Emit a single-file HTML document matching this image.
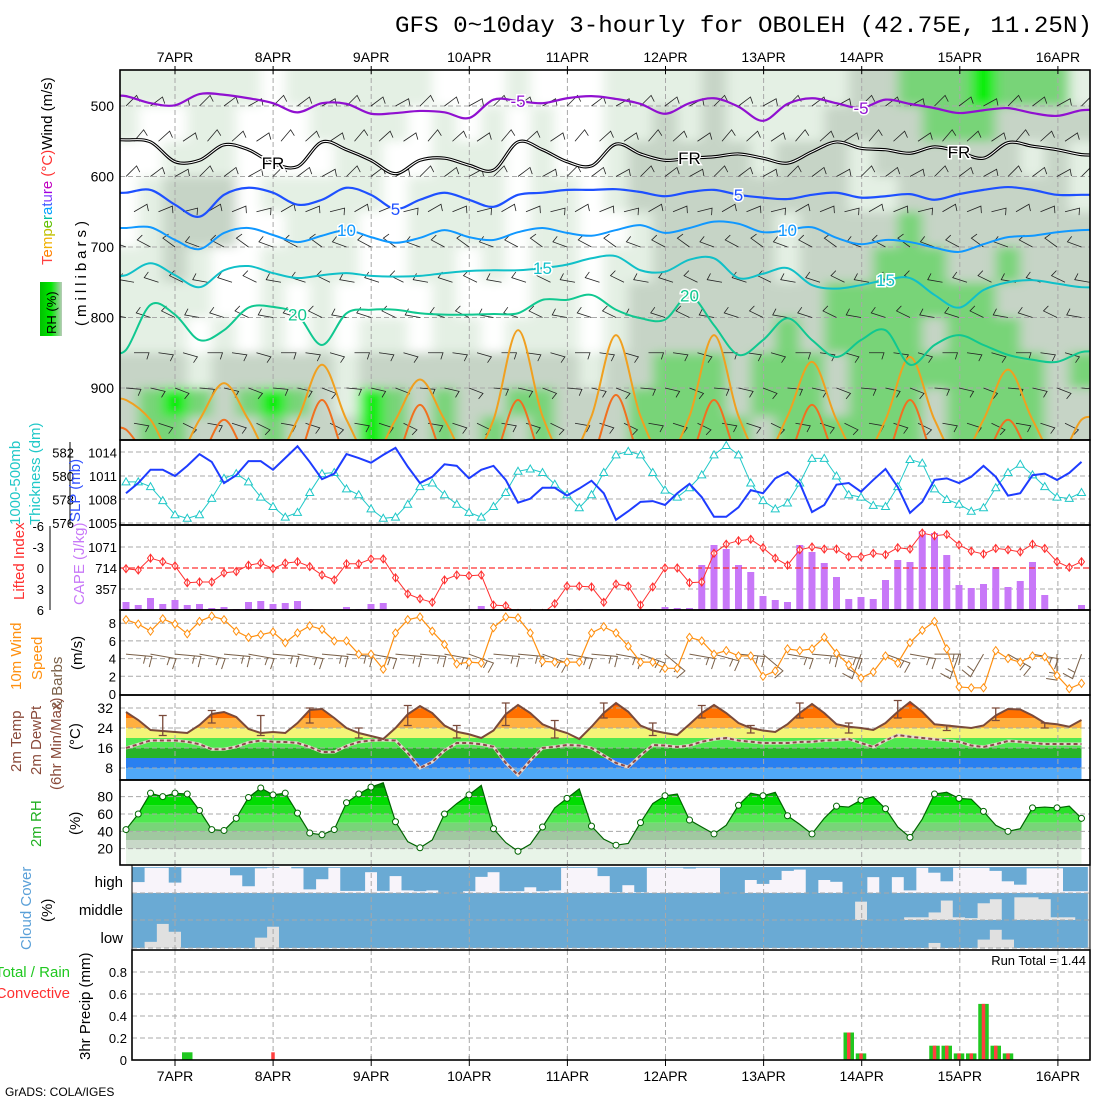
<!DOCTYPE html>
<html><head><meta charset="utf-8">
<style>
html,body{margin:0;padding:0;background:#fff;}
svg{display:block;font-family:"Liberation Sans",sans-serif;}
</style></head>
<body>
<svg id="chart" xmlns="http://www.w3.org/2000/svg" width="1100" height="1100" viewBox="0 0 1100 1100">
<defs>
<clipPath id="cpUp"><rect x="120" y="70" width="970" height="370"/></clipPath>
<clipPath id="cpSlp"><rect x="120" y="440" width="970" height="85"/></clipPath>
<clipPath id="cpCape"><rect x="120" y="525" width="970" height="85"/></clipPath>
<clipPath id="cpWind"><rect x="120" y="610" width="970" height="85"/></clipPath>
<clipPath id="cpTemp"><rect x="120" y="695" width="970" height="85"/></clipPath>
<clipPath id="cpRh"><rect x="120" y="780" width="970" height="85"/></clipPath>
<filter id="blur" x="-5%" y="-5%" width="110%" height="110%"><feGaussianBlur stdDeviation="6 5"/></filter>
<linearGradient id="rhKey" x1="0" x2="1" y1="0" y2="0"><stop offset="0" stop-color="#00c000"/><stop offset="0.5" stop-color="#00e800"/><stop offset="1" stop-color="#b8ccb8"/></linearGradient>
</defs>
<rect x="0" y="0" width="1100" height="1100" fill="#fff"/>
<text x="395" y="32" font-family="Liberation Mono, monospace" font-size="23" textLength="697" lengthAdjust="spacingAndGlyphs">GFS 0~10day 3-hourly for OBOLEH (42.75E, 11.25N)</text>
<g id="layers"></g>

<g font-size="15">
<text transform="translate(52,265) rotate(-90)"><tspan fill="#ff4040">T</tspan><tspan fill="#ff8000">e</tspan><tspan fill="#f0b000">m</tspan><tspan fill="#c0c000">p</tspan><tspan fill="#60c000">e</tspan><tspan fill="#00c0a0">r</tspan><tspan fill="#00a0ff">a</tspan><tspan fill="#4060ff">t</tspan><tspan fill="#8040ff">u</tspan><tspan fill="#a000e0">r</tspan><tspan fill="#c000c0">e</tspan><tspan fill="#ff3030"> (°C)</tspan><tspan fill="#000">Wind (m/s)</tspan></text>
<rect x="40" y="282" width="22" height="54" fill="url(#rhKey)"/>
<text transform="translate(56,334) rotate(-90)" fill="#000" font-size="13">RH (%)</text>
<text transform="translate(86,326) rotate(-90)" fill="#000" letter-spacing="4">(millibars)</text>
<text transform="translate(20,525) rotate(-90)" fill="#20c8c8">1000-500mb</text>
<text transform="translate(40,525) rotate(-90)" fill="#20c8c8">Thickness (dm)</text>
<text transform="translate(80,522) rotate(-90)" fill="#3050ff">SLP (mb)</text>
<text transform="translate(24,600) rotate(-90)" fill="#ff3030">Lifted Index</text>
<text transform="translate(84,605) rotate(-90)" fill="#c878f8">CAPE (J/kg)</text>
<text transform="translate(21,690) rotate(-90)" fill="#ff9010">10m Wind</text>
<text transform="translate(42,680) rotate(-90)" fill="#ff9010">Speed</text>
<text transform="translate(62,710) rotate(-90)" fill="#7a6048">&amp; Barbs</text>
<text transform="translate(82,670) rotate(-90)" fill="#000">(m/s)</text>
<text transform="translate(21,772) rotate(-90)" fill="#8a4a3a">2m Temp</text>
<text transform="translate(41,775) rotate(-90)" fill="#8a4a3a">2m DewPt</text>
<text transform="translate(61,790) rotate(-90)" fill="#8a4a3a">(6hr Min/Max)</text>
<text transform="translate(80,750) rotate(-90)" fill="#000">(°C)</text>
<text transform="translate(41,847) rotate(-90)" fill="#20b020">2m RH</text>
<text transform="translate(80,835) rotate(-90)" fill="#000">(%)</text>
<text transform="translate(31,950) rotate(-90)" fill="#5aa0d8">Cloud Cover</text>
<text transform="translate(52,922) rotate(-90)" fill="#000">(%)</text>
<text transform="translate(90,1060) rotate(-90)" fill="#000">3hr Precip (mm)</text>
<text x="70" y="977" text-anchor="end" fill="#20c820">Total / Rain</text>
<text x="70" y="998" text-anchor="end" fill="#ff3030">Convective</text>
<text x="123" y="887" text-anchor="end" font-size="15">high</text>
<text x="123" y="915" text-anchor="end" font-size="15">middle</text>
<text x="123" y="943" text-anchor="end" font-size="15">low</text>
<text x="1086" y="965" text-anchor="end" font-size="13">Run Total = 1.44</text>
<text x="5" y="1096" font-size="12">GrADS: COLA/IGES</text>
</g>
</svg>

<script>
const dateLabels = ["7APR","8APR","9APR","10APR","11APR","12APR","13APR","14APR","15APR","16APR"];
const slp = [1008.8,1010.1,1011.8,1011.8,1011.0,1012.3,1013.8,1012.8,1010.1,1011.1,1012.9,1012.9,1011.8,1013.3,1014.8,1012.8,1010.6,1011.3,1013.8,1013.3,1012.7,1013.7,1014.6,1012.2,1010.1,1010.9,1012.5,1012.3,1010.7,1011.8,1012.3,1010.5,1007.6,1008.1,1009.5,1009.5,1008.5,1009.4,1010.4,1008.8,1005.4,1006.5,1007.7,1007.8,1007.3,1008.8,1010.0,1008.3,1005.8,1005.8,1007.0,1009.2,1008.8,1010.7,1011.5,1010.1,1006.4,1007.3,1009.9,1010.1,1009.0,1010.5,1011.9,1009.6,1006.3,1007.7,1010.5,1010.7,1010.1,1010.9,1012.3,1010.9,1008.5,1008.8,1011.1,1011.3,1010.5,1011.4,1012.8];
const thickness = [579.5,579.5,579.1,577.9,576.7,576.4,576.7,578.1,579.8,580.2,579.5,578.2,577.4,576.5,576.9,578.6,580.2,580.3,578.9,578.4,577.2,576.4,576.5,577.6,579.1,579.4,578.4,577.6,576.9,576.5,577.4,578.6,580.4,580.6,580.3,579.3,578.4,577.3,578.4,580.3,581.8,582.1,581.8,580.3,578.8,578.2,579.0,580.1,581.8,582.6,581.8,579.4,577.9,577.2,577.7,579.4,581.5,581.5,580.0,578.4,578.2,577.5,577.4,579.1,581.4,581.1,578.9,578.0,577.6,577.0,577.3,579.0,580.3,581.0,580.1,579.1,578.2,578.1,578.6];
const liftedIndex = [0.1,0.3,-1.4,-0.9,-0.3,2.1,2.0,2.0,0.7,0.5,-0.4,-0.7,0.1,-0.7,-0.9,-0.2,1.0,1.7,-0.6,-0.6,-1.3,-1.3,1.4,3.7,4.4,4.9,1.7,1.0,1.1,1.0,5.3,5.4,6.5,6.5,6.5,5.1,2.6,2.6,2.7,4.9,2.3,2.6,5.3,2.7,0.0,0.0,2.1,2.0,-2.1,-3.4,-3.9,-4.1,-2.9,-1.4,-0.4,-2.6,-3.0,-2.7,-2.7,-1.6,-1.6,-2.1,-1.9,-2.9,-2.7,-5.0,-4.6,-4.8,-3.3,-2.4,-2.0,-2.8,-2.6,-2.3,-3.4,-2.8,-0.9,-0.1,-0.9];
const cape = [136,85,204,102,170,85,102,34,51,17,136,153,102,119,153,17,0,0,51,17,102,119,0,0,0,0,0,0,17,68,0,0,0,0,0,0,0,17,0,0,0,0,0,17,51,34,34,765,1105,1037,765,646,238,170,136,1105,986,799,561,187,221,187,510,850,816,1343,1309,935,425,374,442,731,391,493,816,255,17,17,85];
const windSpeed = [8.4,7.9,7.1,8.5,7.9,6.8,8.2,8.8,8.4,7.1,6.4,6.7,7.0,5.8,6.9,7.7,7.3,6.0,6.0,4.5,4.5,2.8,6.9,8.4,8.7,7.1,5.6,3.4,3.6,3.5,7.5,8.7,8.6,6.9,3.7,3.6,3.6,3.6,6.9,7.6,6.9,5.4,3.6,3.6,2.9,2.9,6.4,6.0,4.5,4.9,4.3,4.3,2.0,2.6,5.1,4.9,5.1,6.4,4.6,3.3,1.8,2.5,4.3,3.5,5.8,7.2,8.2,5.1,0.8,0.7,0.7,4.9,4.0,3.6,4.3,4.2,2.1,0.6,1.2];
const windDir = [95,95,100,95,95,100,100,95,95,95,100,100,95,95,100,95,95,100,95,100,100,110,95,95,95,100,100,110,110,100,95,95,95,100,110,110,100,100,95,95,100,100,110,120,130,120,100,95,105,100,95,100,130,140,100,100,95,90,100,140,200,160,110,120,100,95,90,100,200,220,210,150,120,110,100,100,180,220,200];
const temp2m = [30.4,27.2,23.2,22.8,22.4,22.0,25.2,29.6,30.4,28.4,23.6,22.0,22.4,22.0,26.0,31.2,31.6,28.0,24.0,22.0,20.8,19.6,24.0,29.5,32.8,30.0,25.0,22.5,21.5,20.0,23.0,29.5,33.2,30.0,25.5,23.5,22.0,19.6,24.5,30.0,34.0,30.5,25.0,23.0,22.0,21.2,25.5,30.0,33.2,30.0,26.0,24.0,23.0,22.4,25.5,30.0,33.6,30.0,25.5,24.5,24.0,23.2,26.0,30.5,34.4,30.5,25.5,25.0,24.5,24.0,25.0,29.0,31.6,31.4,29.0,26.0,25.5,24.5,27.2];
const dew2m = [16,17.5,19,19,19,18.5,17.5,15.5,15.5,16.5,18.2,19,18.5,18.4,18,16.4,14.4,14.4,16.8,18.4,19,19.2,19,14,8,10.4,15,18,18,17.5,16.5,10,5.2,11,16,16.5,17.2,17,16,13,10,8.4,13,17.2,17,16.4,17,18.5,19.5,20,19,18.5,18,18,18,18.4,18.5,19,19.2,19.6,18,16.4,19,21.2,20.5,20,19.5,19,18.5,17,16.4,17.5,18.8,18.5,18,17.6,17.6,17.6,17.6];
const minMaxIdx = [3,7,11,15,19,23,27,31,35,39,43,47,51,55,59,63,67,71,75];
const tMax = [29,31,29,32,24,33,25,34,27,34,26,33,25,34,26,35,25,32,26];
const tMin = [21,26,21,26,20,25,20,25,20,28,21,28,22,28,22,28,23,27,24];
const rh2m = [42,60,84,80,84,83,64,42,41,55,79,90,82,84,61,38,36,42,73,83,91,96,51,28,21,30,60,72,82,93,43,27,17,25,45,67,78,89,46,31,24,26,50,72,81,83,53,45,37,47,70,84,81,85,58,48,37,55,69,68,76,80,66,45,33,54,83,85,78,77,63,47,40,43,67,68,67,69,55];
const cloudHigh = [0.58,0.03,0.03,0.6,0.02,0.02,0.02,0.02,0.32,0.74,0.05,0.03,0.0,0.05,0.86,0.47,0.03,0.92,0.92,0.2,0.92,0.35,0.9,0.93,0.9,1.0,1.0,0.93,0.38,0.2,0.93,0.93,0.78,0.93,0.9,0.03,0.03,0.03,0.35,0.97,0.7,0.97,0.03,0.03,0.03,0.06,0.03,0.03,1.0,1.0,0.5,0.65,0.5,0.15,0.1,1.0,0.5,0.57,1.0,1.0,0.39,1.0,0.39,0.9,0.03,0.22,0.55,0.03,0.03,0.03,0.15,0.55,0.68,0.05,0.05,0.05,0.93,0.93];
const cloudMid = [1,1,1,1,1,1,1,1,1,1,1,1,1,1,1,1,1,1,1,1,1,1,1,1,1,1,1,1,1,1,1,1,1,1,1,1,1,1,1,1,1,1,1,1,1,1,1,1,1,1,1,1,1,1,1,1,1,1,1,0.32,1,1,1,0.9,0.9,0.72,0.28,0.9,0.93,0.38,0.23,1,0.16,0.16,0.23,0.9,0.9,1];
const cloudLow = [1,0.78,0.14,0.42,1,1,1,1,1,1,0.63,0.24,1,1,1,1,1,1,1,1,1,1,1,1,1,1,1,1,1,1,1,1,1,1,1,1,1,1,1,1,1,1,1,1,1,1,1,1,1,1,1,1,1,1,1,1,1,1,1,1,1,1,1,1,1,0.82,1,1,1,0.7,0.35,0.7,1,1,1,1,1,1];
const precipTotal = [0,0,0,0,0.07,0,0,0,0,0,0,0,0,0,0,0,0,0,0,0,0,0,0,0,0,0,0,0,0,0,0,0,0,0,0,0,0,0,0,0,0,0,0,0,0,0,0,0,0,0,0,0,0,0,0,0,0,0,0.25,0.06,0,0,0,0,0,0.13,0.13,0.06,0.06,0.51,0.13,0.06,0,0,0,0,0,0];
const precipConv = [0,0,0,0,0,0,0,0,0,0,0,0.07,0,0,0,0,0,0,0,0,0,0,0,0,0,0,0,0,0,0,0,0,0,0,0,0,0,0,0,0,0,0,0,0,0,0,0,0,0,0,0,0,0,0,0,0,0,0,0.25,0.06,0,0,0,0,0,0.13,0.13,0.06,0.06,0.51,0.13,0.06,0,0,0,0,0,0];
const isoM5 = [486,496,499,483,484,489,496,509,496,497,511,510,507,509,517,491,493,496,489,486,490,497,511,496,489,501,521,497,489,496,503,491,497,503,510,506,503,510,514,506];
const isoFR = [548,551,579,577,555,562,581,586,551,562,577,596,577,574,584,591,551,562,579,585,554,568,577,574,572,568,574,581,565,551,560,562,567,558,565,574,552,557,562,569];
const iso5 = [623,619,640,657,626,616,623,640,633,616,626,646,633,623,633,643,626,623,619,619,618,622,628,622,619,626,630,632,626,623,630,628,625,633,625,619,615,619,626,626];
const iso10 = [673,672,690,703,680,673,683,693,684,676,686,694,687,676,686,690,679,673,680,684,676,669,680,673,664,667,679,676,672,687,696,690,693,701,707,696,686,684,679,676];
const iso15 = [740,723,740,757,733,727,737,744,740,737,741,742,741,737,734,733,733,730,725,716,713,733,735,718,716,744,738,730,754,759,754,747,744,768,786,761,750,747,752,757];
const iso20 = [846,782,796,832,818,786,785,796,839,794,789,789,794,796,796,795,794,775,775,768,789,801,803,769,811,853,832,801,832,856,832,818,867,839,825,839,853,860,863,849];
const iso25 = [917,945,1000,945,893,945,1000,945,867,945,1000,945,888,945,1000,945,818,940,1000,940,825,940,1000,940,825,940,1000,940,863,945,1000,945,856,945,1000,945,874,945,1000,945];
const iso30 = [959,1000,1000,1000,945,1000,1000,1000,917,1000,1000,1000,924,1000,1000,1000,917,1000,1000,1000,910,1000,1000,1000,917,1000,1000,1000,924,1000,1000,1000,917,1000,1000,1000,945,1000,1000,1000];
const rhLevels = [475,525,575,625,675,725,775,825,875,925,965];
const rhRows = [
"1111110111111000100011112111112233343331",
"1001100011110101010011212111122223332222",
"0011100001100111010012222212221222222121",
"0122201111101111011012222222221122222221",
"0122200111001111011001222221222232222222",
"1121001111001101011011222221222333223222",
"1111001010000100011012222222233333332222",
"1110101010110110111012222223233332333222",
"2221222221222222222122333233323333333323",
"2343234321432322332223333233323332333322",
"2332223222432323232223333323333332333322"];
const barbLevels = [500,550,600,650,700,750,800,850,900,950];
const barbDir = [45,40,45,60,290,280,280,90,95,100];

const NS = "http://www.w3.org/2000/svg";
const root = document.getElementById('layers');
function mk(tag, attrs, parent){ const e=document.createElementNS(NS,tag); for(const k in attrs) e.setAttribute(k,attrs[k]); (parent||root).appendChild(e); return e; }
function grp(clip, name){ const g=document.createElementNS(NS,'g'); if(clip) g.setAttribute('clip-path','url(#'+clip+')'); root.appendChild(g);
  
  
  return g; }
const X3 = i => 126 + 12.25*i;
const X6 = j => 126 + 24.5*j;
const dateX = d => 175 + 98.1*d;
const yP = p => 106 + (p-500)*0.705;
const ySlp = v => 523 - (v-1005)*7.83;
const yThk = v => 523 - (v-576)*11.75;
const yLi = v => 568 + v*7;
const yCape = v => 610 - v*21/357;
const yWs = v => 694 - v*8.85;
const yT = v => 748 - (v-16)*2.5;
const yRh = v => 866 - v*0.867;
const yPr = v => 1060 - v*110;
function smooth(pts){ let d='M'+pts[0][0]+','+pts[0][1];
  for(let i=0;i<pts.length-1;i++){ const p0=pts[Math.max(0,i-1)],p1=pts[i],p2=pts[i+1],p3=pts[Math.min(pts.length-1,i+2)];
    d+=' C'+(p1[0]+(p2[0]-p0[0])/6)+','+(p1[1]+(p2[1]-p0[1])/6)+' '+(p2[0]-(p3[0]-p1[0])/6)+','+(p2[1]-(p3[1]-p1[1])/6)+' '+p2[0]+','+p2[1]; }
  return d; }
function poly(vals, fx, fy){ return vals.map((v,i)=>fx(i)+','+fy(v)).join(' '); }
function hgrid(g, ys, x0){ ys.forEach(y=>{ const l=mk('line',{x1:x0||120,x2:1090,y1:y,y2:y,stroke:'#a8a8a8','stroke-dasharray':'5,3','stroke-width':1},g);
  
   }); }
function vgrid(g, y0, y1){ dateLabels.forEach((d,k)=>{ const l=mk('line',{x1:dateX(k),x2:dateX(k),y1:y0,y2:y1,stroke:'#a8a8a8','stroke-dasharray':'5,3','stroke-width':1},g);
  
   }); }
function frame(x,y,w,h,name){ const r=mk('rect',{x:x,y:y,width:w,height:h,fill:'none',stroke:'#000','stroke-width':1.6});
  
   }
function tick(x,y,txt,anchor,size,name){ const t=mk('text',{x:x,y:y,'text-anchor':anchor||'end','font-size':size||14,fill:'#000'}); t.textContent=txt;
  
   return t; }

// upper air
const gUp = grp('cpUp','upper-air-panel');
const rhCol = {'0':'#ffffff','1':'#e4f0e4','2':'#c6d4c6','3':'#78d478','4':'#00ee00'};
const gRh = mk('g',{filter:'url(#blur)'},gUp);


mk('rect',{x:100,y:50,width:1010,height:410,fill:'#fff'},gRh);
rhRows.forEach((row,r)=>{ const lv=rhLevels[r];
  const y0 = r===0?50:yP(lv-25), y1 = r===rhRows.length-1?460:yP(lv+25);
  for(let j=0;j<row.length;j++){ const x0 = j===0?100:X6(j)-12.25, x1 = j===row.length-1?1110:X6(j)+12.25;
    const c=mk('rect',{x:x0,y:y0,width:x1-x0+0.5,height:y1-y0+0.5,fill:rhCol[row[j]]},gRh);
    
     } });
hgrid(gUp,[500,600,700,800,900].map(yP));
vgrid(gUp,70,440);
barbLevels.forEach((lv,r)=>{ for(let j=0;j<40;j++){ const x=X6(j)+(r%2?8:0), y=yP(lv);
  const a=(barbDir[r]+(j%3)*8)*Math.PI/180, L=15;
  const ex=x+Math.sin(a)*L, ey=y-Math.cos(a)*L;
  const b=a+Math.PI*0.6, bx=ex+Math.sin(b)*7, by=ey-Math.cos(b)*7;
  const p=mk('path',{d:'M'+x+','+y+' L'+ex+','+ey+' L'+bx+','+by,fill:'none',stroke:'#222','stroke-width':0.8},gUp);
  
   } });
function iso(vals,color,w,name){ const pts=vals.map((p,j)=>[X6(j),yP(p)]); pts.unshift([110,pts[0][1]]); pts.push([1100,pts[pts.length-1][1]]);
  const e=mk('path',{d:smooth(pts),fill:'none',stroke:color,'stroke-width':w},gUp);
  
   return pts; }
iso(iso30,'#f07020',2,'isotherm-30');
iso(iso25,'#f0a020',2,'isotherm-25');
iso(iso20,'#10c890',2,'isotherm-20');
iso(iso15,'#10c0c8',2,'isotherm-15');
iso(iso10,'#1098ff',2,'isotherm-10');
iso(iso5,'#1e50ff',2.2,'isotherm-5');
iso(isoFR,'#000',3.2,'isotherm-freezing');
iso(isoFR,'#fff',1,'isotherm-freezing-inner');
iso(isoM5,'#9010d0',2.2,'isotherm-minus-5');
function isoLabel(j, arr, txt, color){ const t=mk('text',{x:X6(j),y:yP(arr[j])+6,'font-size':17,fill:color,'text-anchor':'middle',stroke:'#fff','stroke-width':3,'paint-order':'stroke'},gUp); t.textContent=txt;
  
   }
isoLabel(16,isoM5,'-5','#9010d0'); isoLabel(30,isoM5,'-5','#9010d0');
isoLabel(6,isoFR,'FR','#000'); isoLabel(23,isoFR,'FR','#000'); isoLabel(34,isoFR,'FR','#000');
isoLabel(11,iso5,'5','#1e50ff'); isoLabel(25,iso5,'5','#1e50ff');
isoLabel(9,iso10,'10','#1098ff'); isoLabel(27,iso10,'10','#1098ff');
isoLabel(17,iso15,'15','#10c0c8'); isoLabel(31,iso15,'15','#10c0c8');
isoLabel(7,iso20,'20','#10c890'); isoLabel(23,iso20,'20','#10c890');
frame(120,70,970,370,'upper-panel-frame');
[500,600,700,800,900].forEach(p=>tick(114,yP(p)+5,String(p),'end',14,'pressure-tick'));
dateLabels.forEach((d,k)=>{ tick(dateX(k),62,d,'middle',14,'date-label-top'); tick(dateX(k),1081,d,'middle',14,'date-label-bottom');
  const t1=mk('line',{x1:dateX(k),x2:dateX(k),y1:66,y2:74,stroke:'#000'});  
  const t2=mk('line',{x1:dateX(k),x2:dateX(k),y1:1056,y2:1066,stroke:'#000'});   });

// SLP / thickness
const gS = grp('cpSlp','slp-panel');
hgrid(gS,[452,476,499,523]); vgrid(gS,440,525);
const thkLine=mk('polyline',{points:poly(thickness,X3,yThk),fill:'none',stroke:'#20c8c8','stroke-width':1},gS);


thickness.forEach((v,i)=>{ const x=X3(i),y=yThk(v); const m=mk('path',{d:'M'+(x-4)+','+(y+3)+' L'+x+','+(y-4)+' L'+(x+4)+','+(y+3)+'Z',fill:'#fff',stroke:'#20c8c8','stroke-width':1},gS);
  
   });
const slpLine=mk('polyline',{points:poly(slp,X3,ySlp),fill:'none',stroke:'#1e3cff','stroke-width':2},gS);


frame(120,440,970,85,'slp-panel-frame');
[[582,1014],[580,1011],[578,1008],[576,1005]].forEach(p=>{ tick(74,yThk(p[0])+5,String(p[0]),'end',13,'thickness-tick'); tick(117,ySlp(p[1])+5,String(p[1]),'end',13,'slp-tick'); });
const ax1=mk('line',{x1:70,x2:70,y1:442,y2:525,stroke:'#000'});  

// CAPE / LI
const gC = grp('cpCape','cape-panel');
hgrid(gC,[547,589]); vgrid(gC,525,610);
cape.forEach((v,i)=>{ if(v<=0) return; const y=yCape(v); const b=mk('rect',{x:X3(i)-3.5,y:y,width:7,height:610-y,fill:'#c878f8'},gC);
  
   });
const zl=mk('line',{x1:120,x2:1090,y1:yLi(0),y2:yLi(0),stroke:'#ff3030','stroke-dasharray':'6,3','stroke-width':1.3},gC);
 
const liLine=mk('polyline',{points:poly(liftedIndex,X3,yLi),fill:'none',stroke:'#ff3030','stroke-width':1},gC);


liftedIndex.forEach((v,i)=>{ const x=X3(i),y=yLi(v); const m=mk('path',{d:'M'+(x-3)+','+y+' L'+x+','+(y-4)+' L'+(x+3)+','+y+' L'+x+','+(y+4)+'Z M'+x+','+(y-4)+' L'+x+','+(y+4),fill:'#fff',stroke:'#ff3030','stroke-width':1},gC);
  
   });
frame(120,525,970,85,'cape-panel-frame');
[-6,-3,0,3,6].forEach(v=>tick(44,yLi(v)+5,String(v),'end',13,'li-tick'));
[1071,714,357].forEach(v=>tick(117,yCape(v)+5,String(v),'end',13,'cape-tick'));
const ax2=mk('line',{x1:50,x2:50,y1:526,y2:610,stroke:'#000'});  

// 10m wind
const gW = grp('cpWind','wind-panel');
hgrid(gW,[2,4,6,8].map(yWs)); vgrid(gW,610,695);
windDir.forEach((d,i)=>{ if(i%2===1) return; const x=X3(i), y=yWs(4.5); const a=d*Math.PI/180, L=26;
  const ex=x+Math.sin(a)*L, ey=y-Math.cos(a)*L;
  const b=a+Math.PI*0.55, bx=ex+Math.sin(b)*11, by=ey-Math.cos(b)*11;
  const mx=x+Math.sin(a)*L*0.75, my=y-Math.cos(a)*L*0.75, cx=mx+Math.sin(b)*8, cy=my-Math.cos(b)*8;
  const p=mk('path',{d:'M'+x+','+y+' L'+ex+','+ey+' L'+bx+','+by+' M'+mx+','+my+' L'+cx+','+cy,fill:'none',stroke:'#7a6048','stroke-width':1},gW);
  
   });
const wsLine=mk('polyline',{points:poly(windSpeed,X3,yWs),fill:'none',stroke:'#ff9010','stroke-width':1.2},gW);


windSpeed.forEach((v,i)=>{ const x=X3(i),y=yWs(v); const m=mk('path',{d:'M'+(x-3)+','+y+' L'+x+','+(y-4)+' L'+(x+3)+','+y+' L'+x+','+(y+4)+'Z',fill:'#fff',stroke:'#ff9010','stroke-width':1},gW);
  
   });
frame(120,610,970,85,'wind-panel-frame');
[0,2,4,6,8].forEach(v=>tick(116,yWs(v)+5,String(v),'end',13,'wind-tick'));

// temperature
const gT = grp('cpTemp','temp-panel');
const tArea = 'M'+X3(0)+',780 L'+temp2m.map((v,i)=>X3(i)+','+yT(v)).join(' L')+' L'+X3(temp2m.length-1)+',780 Z';
const tClip = mk('clipPath',{id:'tAreaClip'},document.querySelector('defs'));
mk('path',{d:tArea},tClip);
const tb = mk('g',{'clip-path':'url(#tAreaClip)'},gT);


[[33,40,'#ff3a00'],[28,33,'#ff7000'],[24,28,'#ffb040'],[20,24,'#f4f478'],[16,20,'#50e850'],[12,16,'#28b428'],[8,12,'#2a80f0'],[0,8,'#50a8f8']].forEach(b=>{
  const r=mk('rect',{x:120,y:yT(b[1]),width:970,height:yT(b[0])-yT(b[1]),fill:b[2]},tb);
  
   });
hgrid(gT,[8,16,24,32].map(yT)); vgrid(gT,695,780);
minMaxIdx.forEach((ix,k)=>{ const x=X3(ix), y1=yT(tMax[k]), y2=yT(tMin[k]);
  const p=mk('path',{d:'M'+x+','+y1+' L'+x+','+y2+' M'+(x-4)+','+y1+' L'+(x+4)+','+y1+' M'+(x-4)+','+y2+' L'+(x+4)+','+y2,stroke:'#7a4a3a','stroke-width':1.3,fill:'none'},gT);
  
   });
const dl1=mk('polyline',{points:poly(dew2m,X3,yT),fill:'none',stroke:'#e8d8d0','stroke-width':3},gT);
 
const dl=mk('polyline',{points:poly(dew2m,X3,yT),fill:'none',stroke:'#8a4a4a','stroke-width':2,'stroke-dasharray':'4,3'},gT);
 
const tl=mk('polyline',{points:poly(temp2m,X3,yT),fill:'none',stroke:'#7a4a3a','stroke-width':2},gT);
 
frame(120,695,970,85,'temp-panel-frame');
[8,16,24,32].forEach(v=>tick(113,yT(v)+5,String(v),'end',14,'temp-tick'));

// RH
const gR = grp('cpRh','rh-panel');
const rhArea = 'M'+X3(0)+',866 L'+rh2m.map((v,i)=>X3(i)+','+yRh(v)).join(' L')+' L'+X3(rh2m.length-1)+',866 Z';
const rClip = mk('clipPath',{id:'rhAreaClip'},document.querySelector('defs'));
mk('path',{d:rhArea},rClip);
const rb = mk('g',{'clip-path':'url(#rhAreaClip)'},gR);


[[0,20,'#e8f4e8'],[20,30,'#c8d8c8'],[30,40,'#a0c8a0'],[40,50,'#78d478'],[50,60,'#50e850'],[60,70,'#28e028'],[70,80,'#00dd00'],[80,90,'#00b800'],[90,100,'#009000']].forEach(b=>{
  const r=mk('rect',{x:120,y:yRh(b[1]),width:970,height:yRh(b[0])-yRh(b[1]),fill:b[2]},rb);
  
   });
hgrid(gR,[20,40,60,80].map(yRh)); vgrid(gR,780,865);
const rl=mk('polyline',{points:poly(rh2m,X3,yRh),fill:'none',stroke:'#006400','stroke-width':1.2},gR);
 
rh2m.forEach((v,i)=>{ if(i%2===1 && i>20) return; const c=mk('circle',{cx:X3(i),cy:yRh(v),r:3,fill:'#fff',stroke:'#006400','stroke-width':1},gR);
  
   });
frame(120,780,970,85,'rh-panel-frame');
[20,40,60,80].forEach(v=>tick(113,yRh(v)+5,String(v),'end',14,'rh-tick'));

// cloud cover
const gCl = grp(null,'cloud-panel');
const rows=[[cloudHigh,867,26,'#f8f4fa'],[cloudMid,893,27,'#e4e4e4'],[cloudLow,920,28,'#e0e0e0']];
rows.forEach(rw=>{ const bg=mk('rect',{x:132,y:rw[1],width:958,height:rw[2],fill:rw[3]},gCl);
   
  rw[0].forEach((f,k)=>{ const b=mk('rect',{x:132+12.25*k,y:rw[1],width:12.6,height:rw[2]*f,fill:'#6aaad4'},gCl);
    
     }); });
vgrid(gCl,865,950);
hgrid(gCl,[893,920,948],132);
const cf=mk('rect',{x:132,y:865,width:958,height:85,fill:'none',stroke:'#000','stroke-width':1});  

// precip
const gP = grp(null,'precip-panel');
hgrid(gP,[0.2,0.4,0.6,0.8].map(yPr),132); vgrid(gP,950,1060);
precipTotal.forEach((v,k)=>{ if(v<=0) return; const b=mk('rect',{x:132+12.25*k+1,y:yPr(v),width:10.5,height:v*110,fill:'#20c820'},gP);
  
   });
precipConv.forEach((v,k)=>{ if(v<=0) return; const b=mk('rect',{x:132+12.25*k+4.5,y:yPr(v),width:3.5,height:v*110,fill:'#ff4040'},gP);
  
   });
frame(132,950,958,110,'precip-panel-frame');
[0,0.2,0.4,0.6,0.8].forEach(v=>tick(127,yPr(v)+5,String(v),'end',13,'precip-tick'));
</script>
</body></html>
